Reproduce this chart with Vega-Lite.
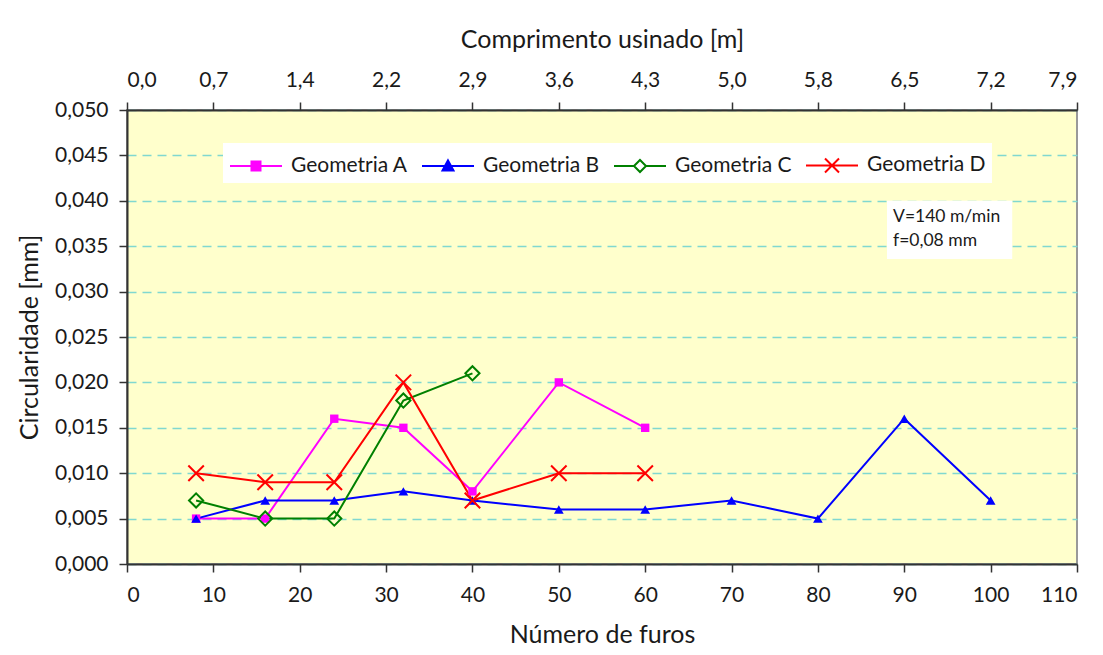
{
  "$schema": "https://vega.github.io/schema/vega-lite/v6.json",
  "autosize": {"type": "none"},
  "padding": {"left": 127, "top": 110, "right": 26, "bottom": 91},
  "width": 950,
  "height": 454,
  "background": "white",
  "data": {"values": [
    {"furos": 8, "circ": 0.005, "serie": "Geometria A"},
    {"furos": 16, "circ": 0.005, "serie": "Geometria A"},
    {"furos": 24, "circ": 0.016, "serie": "Geometria A"},
    {"furos": 32, "circ": 0.015, "serie": "Geometria A"},
    {"furos": 40, "circ": 0.008, "serie": "Geometria A"},
    {"furos": 50, "circ": 0.020, "serie": "Geometria A"},
    {"furos": 60, "circ": 0.015, "serie": "Geometria A"},
    {"furos": 8, "circ": 0.005, "serie": "Geometria B"},
    {"furos": 16, "circ": 0.007, "serie": "Geometria B"},
    {"furos": 24, "circ": 0.007, "serie": "Geometria B"},
    {"furos": 32, "circ": 0.008, "serie": "Geometria B"},
    {"furos": 40, "circ": 0.007, "serie": "Geometria B"},
    {"furos": 50, "circ": 0.006, "serie": "Geometria B"},
    {"furos": 60, "circ": 0.006, "serie": "Geometria B"},
    {"furos": 70, "circ": 0.007, "serie": "Geometria B"},
    {"furos": 80, "circ": 0.005, "serie": "Geometria B"},
    {"furos": 90, "circ": 0.016, "serie": "Geometria B"},
    {"furos": 100, "circ": 0.007, "serie": "Geometria B"},
    {"furos": 8, "circ": 0.007, "serie": "Geometria C"},
    {"furos": 16, "circ": 0.005, "serie": "Geometria C"},
    {"furos": 24, "circ": 0.005, "serie": "Geometria C"},
    {"furos": 32, "circ": 0.018, "serie": "Geometria C"},
    {"furos": 40, "circ": 0.021, "serie": "Geometria C"},
    {"furos": 8, "circ": 0.010, "serie": "Geometria D"},
    {"furos": 16, "circ": 0.009, "serie": "Geometria D"},
    {"furos": 24, "circ": 0.009, "serie": "Geometria D"},
    {"furos": 32, "circ": 0.020, "serie": "Geometria D"},
    {"furos": 40, "circ": 0.007, "serie": "Geometria D"},
    {"furos": 50, "circ": 0.010, "serie": "Geometria D"},
    {"furos": 60, "circ": 0.010, "serie": "Geometria D"}
  ]},
  "layer": [
    {
      "mark": {"type": "line", "strokeWidth": 2},
      "encoding": {
        "x": {"field": "furos", "type": "quantitative",
          "scale": {"domain": [0, 110], "nice": false},
          "axis": {"orient": "bottom", "title": "Número de furos", "values": [0,10,20,30,40,50,60,70,80,90,100,110],
            "grid": false, "labelPadding": 12, "titlePadding": 17}},
        "y": {"field": "circ", "type": "quantitative",
          "scale": {"domain": [0, 0.05], "nice": false},
          "axis": {"title": "Circularidade [mm]", "values": [0,0.005,0.01,0.015,0.02,0.025,0.03,0.035,0.04,0.045,0.05],
            "labelExpr": "replace(format(datum.value, '.3f'), '.', ',')",
            "grid": true, "gridColor": "#80D8D0", "gridDash": [9, 6], "gridWidth": 1.5,
            "tickSize": 8, "labelPadding": 11, "titlePadding": 12}},
        "color": {"field": "serie", "type": "nominal",
          "scale": {"domain": ["Geometria A", "Geometria B", "Geometria C", "Geometria D"],
                    "range": ["#FF00FF", "#0000FF", "#008000", "#FF0000"]},
          "legend": {
            "title": null, "orient": "none", "legendX": 96, "legendY": 33,
            "direction": "horizontal", "columns": 4,
            "fillColor": "white", "padding": 6,
            "symbolSize": 900, "labelOffset": 30, "columnPadding": 10,
            "labelFont": "Lato", "labelFontSize": 21, "labelColor": "#1a1a1a", "labelLimit": 300,
            "encode": {"symbols": {"update": {
              "shape": {"signal": "datum.value === 'Geometria A' ? 'M-1,0H2.467M0.433,-0.3H1.033V0.3H0.433Z' : datum.value === 'Geometria B' ? 'M-1,0H2.467M0.733,-0.37L1.1,0.3H0.367Z' : datum.value === 'Geometria C' ? 'M-1,0H0.333M1.133,0H2.467M0.333,0L0.733,-0.4L1.133,0L0.733,0.4Z' : 'M-1,0H2.467M0.267,-0.467L1.2,0.467M1.2,-0.467L0.267,0.467'"},
              "fill": {"signal": "datum.value === 'Geometria A' ? '#FF00FF' : datum.value === 'Geometria B' ? '#0000FF' : datum.value === 'Geometria C' ? '#FFFFFF' : 'transparent'"},
              "stroke": {"signal": "datum.value === 'Geometria A' ? '#FF00FF' : datum.value === 'Geometria B' ? '#0000FF' : datum.value === 'Geometria C' ? '#008000' : '#FF0000'"},
              "strokeWidth": {"value": 2},
              "opacity": {"value": 1}
            }}}
          }}
      }
    },
    {
      "transform": [{"filter": "datum.serie === 'Geometria A'"}],
      "mark": {"type": "point", "shape": "square", "filled": true, "color": "#FF00FF", "size": 70, "opacity": 1},
      "encoding": {
        "x": {"field": "furos", "type": "quantitative",
          "axis": {"orient": "top", "title": "Comprimento usinado [m]", "values": [0,10,20,30,40,50,60,70,80,90,100,110],
            "labelExpr": "replace(format(datum.value * 0.072, '.1f'), '.', ',')",
            "grid": false, "labelPadding": 12, "titlePadding": 17}},
        "y": {"field": "circ", "type": "quantitative", "axis": null}
      }
    },
    {
      "transform": [{"filter": "datum.serie === 'Geometria B'"}],
      "mark": {"type": "point", "shape": "triangle-up", "filled": true, "color": "#0000FF", "size": 95, "opacity": 1},
      "encoding": {
        "x": {"field": "furos", "type": "quantitative", "axis": null},
        "y": {"field": "circ", "type": "quantitative", "axis": null}
      }
    },
    {
      "transform": [{"filter": "datum.serie === 'Geometria C'"}],
      "mark": {"type": "point", "shape": "diamond", "filled": false, "color": "#008000", "size": 200, "strokeWidth": 2, "opacity": 1},
      "encoding": {
        "x": {"field": "furos", "type": "quantitative", "axis": null},
        "y": {"field": "circ", "type": "quantitative", "axis": null}
      }
    },
    {
      "transform": [{"filter": "datum.serie === 'Geometria D'"}],
      "mark": {"type": "point", "shape": "M-1,-1L1,1M1,-1L-1,1", "filled": false, "color": "#FF0000", "size": 240, "strokeWidth": 2, "opacity": 1},
      "encoding": {
        "x": {"field": "furos", "type": "quantitative", "axis": null},
        "y": {"field": "circ", "type": "quantitative", "axis": null}
      }
    },
    {
      "data": {"values": [{"note": "V=140 m/min"}]},
      "mark": {"type": "rect", "fill": "white", "stroke": null},
      "encoding": {
        "x": {"datum": 88, "type": "quantitative", "axis": null},
        "x2": {"datum": 102.5},
        "y": {"datum": 0.0400, "type": "quantitative", "axis": null},
        "y2": {"datum": 0.0336}
      }
    },
    {
      "data": {"values": [{"note": "V=140 m/min"}]},
      "mark": {"type": "text", "align": "left", "baseline": "middle", "font": "Lato", "fontSize": 17.5, "color": "#1a1a1a", "lineHeight": 24},
      "encoding": {
        "x": {"datum": 88.7, "type": "quantitative", "axis": null},
        "y": {"datum": 0.0382, "type": "quantitative", "axis": null},
        "text": {"value": ["V=140 m/min", "f=0,08 mm"]}
      }
    }
  ],
  "resolve": {"axis": {"x": "independent", "y": "independent"}},
  "config": {
    "font": "Lato",
    "axis": {"labelFont": "Lato", "labelFontSize": 21, "labelColor": "#1a1a1a",
      "titleFont": "Lato", "titleFontSize": 25, "titleFontWeight": "normal", "titleColor": "#1a1a1a",
      "domainColor": "#333333", "domainWidth": 2, "tickColor": "#333333", "tickWidth": 1.5, "tickSize": 8},
    "view": {"fill": "#FFFFCC", "stroke": "#999999", "strokeWidth": 2}
  }
}
